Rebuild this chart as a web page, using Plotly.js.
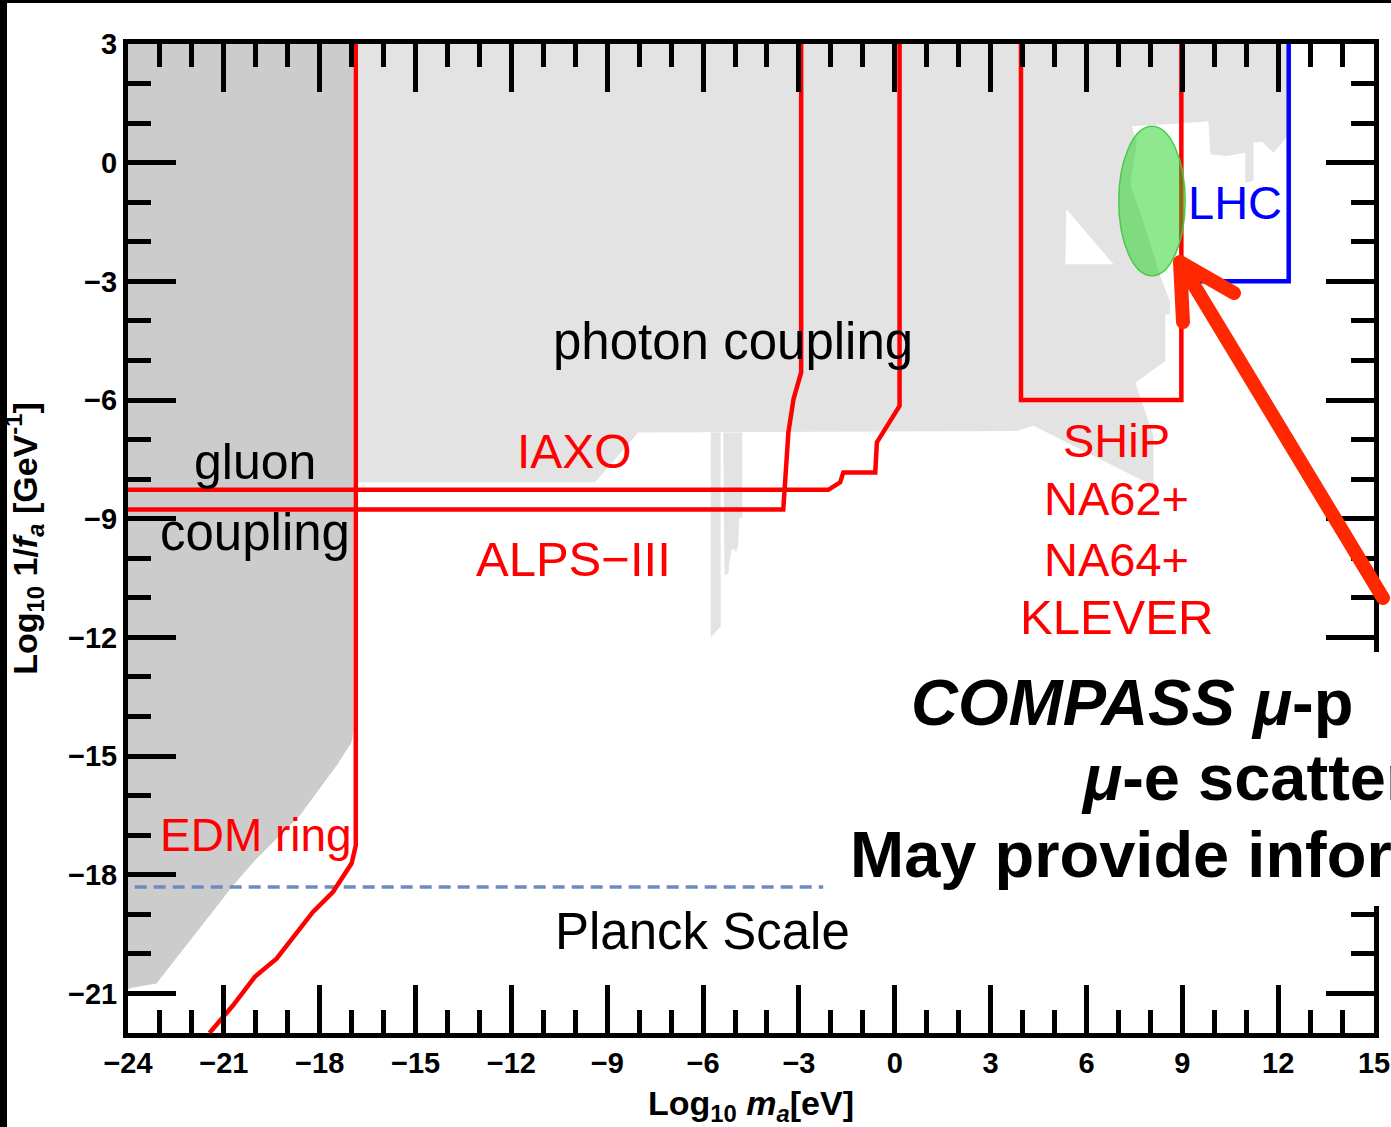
<!DOCTYPE html>
<html>
<head>
<meta charset="utf-8">
<script src="https://cdn.plot.ly/plotly-3.0.1.min.js"></script>
<style>
  html, body { margin: 0; padding: 0; background: #fff; overflow: hidden; }
  #chart { width: 1391px; height: 1127px; }
</style>
</head>
<body>
<div id="chart"></div>
<script>
// ---------- data ----------
// light grey "photon coupling" excluded region (log10 m_a [eV], log10 1/f_a [GeV^-1])
const photonX = [-16.92, 12.29, 12.29, 11.86, 11.50, 11.23, 11.23, 10.97, 10.97, 10.40, 9.88, 9.82, 8.88, 7.42, 7.58, 7.37, 7.79, 8.31, 8.62, 8.62, 8.47, 8.47, 7.53, 8.10, 8.10, 4.34, 3.82, -8.03, -9.38, -16.92];
const photonY = [3, 3, 0.67, 0.25, 0.52, 0.51, -0.46, -0.51, 0.25, 0.17, 0.21, 1.05, 0.99, 0.92, 0.51, -0.55, -1.52, -2.86, -3.52, -3.83, -3.83, -5.01, -5.56, -6.90, -8.17, -6.65, -6.78, -6.82, -8.08, -8.08];
// narrow spikes below the photon region
const spike1X = [-5.76, -5.45, -5.45, -5.76];
const spike1Y = [-6.82, -6.82, -11.72, -12.0];
const spike2X = [-5.37, -4.77, -4.77, -4.87, -4.90, -4.97, -5.02, -5.10, -5.18, -5.21, -5.33];
const spike2Y = [-6.82, -6.82, -9.0, -8.96, -9.68, -9.85, -9.77, -9.78, -10.1, -10.4, -10.42];
// unexcluded triangle inside photon region
const holeX = [5.37, 5.34, 6.85];
const holeY = [-1.18, -2.57, -2.57];
// dark grey "gluon coupling" region
const gluonX = [-24, -16.95, -16.95, -17.0, -17.47, -18.62, -20.03, -20.71, -23.11, -23.9, -24];
const gluonY = [3, 3, -14.4, -14.65, -15.24, -16.5, -17.64, -18.27, -20.75, -20.86, -20.9];
// projected sensitivities (red)
const edmX = [-16.87, -16.87, -17.0, -17.58, -18.21, -19.25, -19.35, -20.03, -20.71, -21.45];
const edmY = [3, -17.26, -17.71, -18.43, -18.94, -20.03, -20.12, -20.58, -21.3, -22.0];
const iaxoX = [-24, -2.08, -1.71, -1.61, -0.61, -0.56, 0.15, 0.15];
const iaxoY = [-8.27, -8.27, -8.08, -7.83, -7.83, -7.07, -6.15, 3];
const alpsX = [-24, -3.49, -3.33, -3.17, -2.93, -2.93];
const alpsY = [-8.77, -8.77, -6.82, -5.98, -5.30, 3];
const shipX = [3.95, 3.95, 8.97, 8.97];
const shipY = [3, -6, -6, 3];
const lhcX = [8.97, 12.33, 12.33];
const lhcY = [-3, -3, 3];
// Planck scale
const planckX = [-23.79, -2.24];
const planckY = [-18.31, -18.31];
// green ellipse (COMPASS region): centre and semi-axes
const ellipseC = [8.05, -0.97];
const ellipseR = [1.04, 1.89];
// tick values
const xTicks = [-24, -21, -18, -15, -12, -9, -6, -3, 0, 3, 6, 9, 12, 15];
const yTicks = [3, 0, -3, -6, -9, -12, -15, -18, -21];

// ---------- traces ----------
const FONT = 'Liberation Sans, Arial, Helvetica, sans-serif';
function poly(x, y, color) {
  return {x: x, y: y, type: 'scatter', mode: 'lines', fill: 'toself', fillcolor: color,
          line: {width: 0, color: color}, hoverinfo: 'skip', showlegend: false};
}
function line(x, y, color, width, dash) {
  return {x: x, y: y, type: 'scatter', mode: 'lines',
          line: {color: color, width: width, dash: dash || 'solid'},
          hoverinfo: 'skip', showlegend: false};
}
const data = [
  poly(photonX, photonY, '#e3e3e3'),
  poly(spike1X, spike1Y, '#e3e3e3'),
  poly(spike2X, spike2Y, '#e3e3e3'),
  poly(holeX, holeY, '#ffffff'),
  poly(gluonX, gluonY, '#cccccc'),
  line(planckX, planckY, '#6a8cbe', 3.5, '12px,7px'),
  line(edmX, edmY, '#ff0000', 4.5),
  line(iaxoX, iaxoY, '#ff0000', 4.5),
  line(alpsX, alpsY, '#ff0000', 4.5),
  line(shipX, shipY, '#ff0000', 4.5),
  line(lhcX, lhcY, '#0000ff', 4.5)
];

// ---------- layout ----------
const W = 1391, H = 1127, ML = 128, MR = 17, MT = 44, MB = 94;
const PW = W - ML - MR, PH = H - MT - MB;
const px = v => (v - ML) / PW;          // pixel -> paper x
const py = v => (H - MB - v) / PH;      // pixel -> paper y

const arrowPts = [[1383, 598], [1180, 262], [1183, 322], [1180, 262], [1234, 293]];
const arrowPath = arrowPts.map((p, i) => (i === 0 || i === 3 ? 'M' : 'L') + px(p[0]) + ',' + py(p[1])).join(' ');

function lab(text, x, y, color, size) {
  return {text: text, x: x, y: y, xref: 'x', yref: 'y', showarrow: false,
          xanchor: 'center', yanchor: 'middle',
          font: {family: FONT, size: size || 47, color: color}};
}
function big(text, x, y) {
  return {text: '<b>' + text + '</b>', x: x, y: y, xref: 'x', yref: 'y', showarrow: false,
          xanchor: 'left', yanchor: 'middle',
          font: {family: FONT, size: 65, color: '#000'}};
}

const axisCommon = {
  showline: true, linecolor: '#000', linewidth: 5, mirror: 'ticks',
  ticks: 'inside', ticklen: 48, tickwidth: 5, tickcolor: '#000',
  showgrid: false, zeroline: false, tickmode: 'array',
  tickfont: {family: FONT, size: 29, color: '#000', weight: 'bold'},
  minor: {dtick: 1, ticks: 'inside', ticklen: 23, tickwidth: 5, tickcolor: '#000', showgrid: false}
};

const layout = {
  width: W, height: H,
  margin: {l: ML, r: MR, t: MT, b: MB, pad: 0},
  paper_bgcolor: '#fff', plot_bgcolor: '#fff',
  showlegend: false,
  xaxis: Object.assign({}, axisCommon, {
    range: [-24, 15], tickvals: xTicks,
    title: {text: 'Log<sub>10</sub> <i>m<sub>a</sub></i>[eV]', standoff: 22,
            font: {family: FONT, size: 34, color: '#000', weight: 'bold'}}
  }),
  yaxis: Object.assign({}, axisCommon, {
    range: [-22, 3], tickvals: yTicks,
    title: {text: 'Log<sub>10</sub> 1/<i>f<sub>a</sub></i> [GeV<sup>-1</sup>]', standoff: 22,
            font: {family: FONT, size: 34, color: '#000', weight: 'bold'}}
  }),
  shapes: [
    {type: 'circle', xref: 'x', yref: 'y', layer: 'above',
     x0: ellipseC[0] - ellipseR[0], x1: ellipseC[0] + ellipseR[0],
     y0: ellipseC[1] - ellipseR[1], y1: ellipseC[1] + ellipseR[1],
     fillcolor: 'rgba(30,210,30,0.5)', line: {color: 'rgba(70,200,70,0.95)', width: 1.5}},
    {type: 'path', xref: 'paper', yref: 'paper', layer: 'above', path: arrowPath,
     line: {color: '#ff2800', width: 14}},
    {type: 'rect', xref: 'paper', yref: 'paper', layer: 'above',
     x0: px(825), x1: px(1400), y0: py(906), y1: py(652),
     fillcolor: '#ffffff', line: {width: 0}},
    {type: 'rect', xref: 'paper', yref: 'paper', layer: 'above',
     x0: px(0), x1: px(7), y0: py(1127), y1: py(0),
     fillcolor: '#000000', line: {width: 0}},
    {type: 'rect', xref: 'paper', yref: 'paper', layer: 'above',
     x0: px(0), x1: px(1391), y0: py(3), y1: py(0),
     fillcolor: '#000000', line: {width: 0}}
  ],
  annotations: [
    lab('gluon', -20.03, -7.56, '#000', 50),
    lab('coupling', -20.03, -9.36, '#000', 51),
    lab('photon coupling', -5.05, -4.53, '#000', 51),
    lab('IAXO', -10.01, -7.29, '#ff0000', 48),
    lab('ALPS\u2212III', -10.06, -10.02, '#ff0000', 49),
    lab('EDM ring', -19.98, -17.0, '#ff0000', 46),
    lab('SHiP', 6.95, -7.01, '#ff0000'),
    lab('NA62+', 6.95, -8.50, '#ff0000'),
    lab('NA64+', 6.95, -10.02, '#ff0000'),
    lab('KLEVER', 6.95, -11.49, '#ff0000', 49),
    lab('LHC', 10.66, -1.01, '#0000ff'),
    lab('Planck Scale', -6.01, -19.44, '#000', 51),
    big('<i>COMPASS \u03bc</i>-p', 0.45, -13.65),
    big('<i>\u03bc</i>-e scattering', 5.78, -15.55),
    big('May provide information', -1.45, -17.49)
  ]
};

Plotly.newPlot('chart', data, layout, {staticPlot: true, displayModeBar: false}).then(function () {
  document.querySelectorAll('.shapelayer path').forEach(function (p) {
    const sw = parseFloat(p.style.strokeWidth || p.getAttribute('stroke-width') || '0');
    if (sw >= 10) { p.style.strokeLinecap = 'round'; p.style.strokeLinejoin = 'round'; }
  });
});
</script>
</body>
</html>
